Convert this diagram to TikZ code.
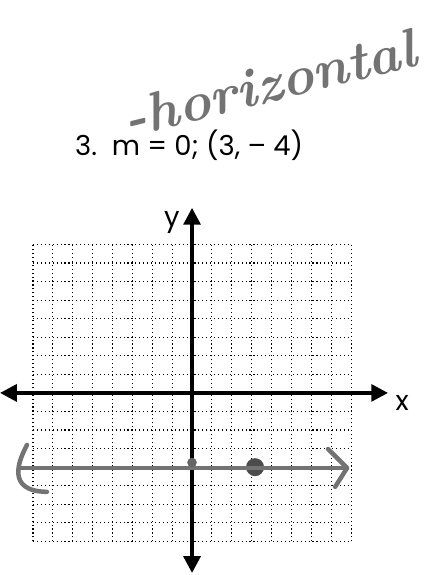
\documentclass[tikz,border=0pt]{standalone}
\usepackage{fontspec}
\setsansfont{Poppins}
\usetikzlibrary{arrows.meta,positioning}

\begin{document}
\begin{tikzpicture}[
    x=0.497cm, y=0.464cm,
    gridline/.style={dotted, line width=0.8pt},
    axis/.style={{Triangle[length=0.42cm,width=0.42cm]}-{Triangle[length=0.42cm,width=0.42cm]}, line width=2.6pt},
    handline/.style={draw=black!55, line width=3.2pt, line cap=round, line join=round},
    lbl/.style={font=\sffamily\fontsize{19.5}{19.5}\selectfont, inner sep=0pt},
    handtext/.style={text=black!55, font=\fontsize{39}{39}\selectfont\bfseries\itshape, inner sep=0pt},
]

\useasboundingbox (-9.66,-9.81) rectangle (11.72,21.17);

% Grid
\foreach \i in {-8,...,8} {
    \draw[gridline] (\i,-8) -- (\i,8);
    \draw[gridline] (-8,\i) -- (8,\i);
}

% Axes
\coordinate (xl) at (-9.66,0);
\coordinate (xr) at (9.86,0);
\coordinate (yt) at (0,9.97);
\coordinate (yb) at (0,-9.7);
\draw[axis] (xl) -- (xr);
\draw[axis] (yb) -- (yt);
\node[lbl] (xlab) at (10.57,-0.54) {x};
\node[lbl] (ylab) at (-1.01,9.16) {y};

% Task
\node[lbl, anchor=west] (task) at (-5.89,13.36) {3.~~m = 0; (3, – 4)};
\node[handtext, rotate=14, anchor=base west] (note) at (-3.2,13.75) {-horizontal};

% Hand-drawn line
\coordinate (hl) at (-8.65,-4.04);
\coordinate (hr) at (7.8,-4.04);
\node[circle, fill=black!70, inner sep=0pt, minimum size=0.45cm] (pt) at (3.17,-4) {};
\draw[handline] (hl) -- (hr);
\fill[black!60] (0,-3.75) circle (0.12cm);
\draw[handline] (-8.3,-2.8) .. controls (-8.7,-3.6) and (-9.4,-5.3) .. (-7.3,-5.33);
\draw[handline] (6.84,-3.02) -- (hr) -- (7.2,-5.06);

\end{tikzpicture}
\end{document}
